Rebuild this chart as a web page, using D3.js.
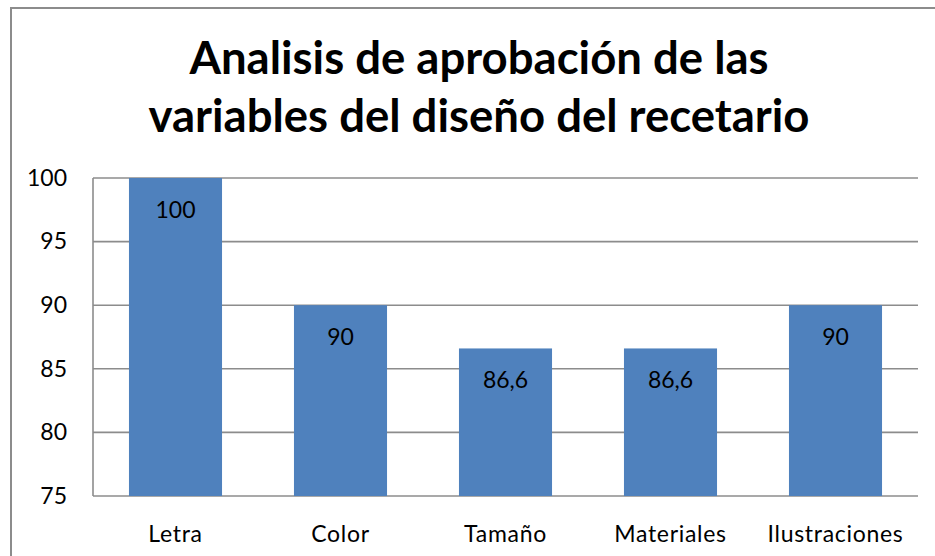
<!DOCTYPE html>
<html>
<head>
<meta charset="utf-8">
<script src="https://cdn.jsdelivr.net/npm/d3@7"></script>
<style>
  html, body { margin: 0; padding: 0; background: #fff; }
  svg { display: block; }
  text { font-family: Lato, "Open Sans", sans-serif; fill: #000; }
</style>
</head>
<body>
<svg id="chart" width="935" height="556"></svg>
<script>
// Chart data
const titleLines = ["Analisis de aprobación de las", "variables del diseño del recetario"];
const categories = ["Letra", "Color", "Tamaño", "Materiales", "Ilustraciones"];
const values = [100, 90, 86.6, 86.6, 90];
const valueLabels = ["100", "90", "86,6", "86,6", "90"];
const yTicks = [75, 80, 85, 90, 95, 100];

const svg = d3.select("#chart");
const W = 935, H = 556;

// Outer chart frame
svg.append("rect")
  .attr("x", 11).attr("y", 8)
  .attr("width", W + 20).attr("height", H + 20)
  .attr("fill", "#fff")
  .attr("stroke", "#8c8c8c")
  .attr("stroke-width", 2);

// Title
const title = svg.append("g");
title.selectAll("text")
  .data(titleLines)
  .join("text")
  .attr("x", 479)
  .attr("y", (d, i) => 74 + i * 58)
  .attr("text-anchor", "middle")
  .attr("font-weight", "bold")
  .attr("font-size", 45.5)
  .text(d => d);

// Plot area
const plot = { left: 93, right: 918, top: 178, bottom: 496 };

const x = d3.scaleBand()
  .domain(categories)
  .range([plot.left, plot.right])
  .paddingInner(0.436)
  .paddingOuter(0.218);

const y = d3.scaleLinear()
  .domain([75, 100])
  .range([plot.bottom, plot.top]);

// Horizontal gridlines
svg.append("g")
  .selectAll("line")
  .data(yTicks)
  .join("line")
  .attr("x1", plot.left).attr("x2", plot.right)
  .attr("y1", d => y(d)).attr("y2", d => y(d))
  .attr("stroke", "#8c8c8c")
  .attr("stroke-width", 1.6);

// Vertical axis line
svg.append("line")
  .attr("x1", plot.left).attr("x2", plot.left)
  .attr("y1", plot.top).attr("y2", plot.bottom)
  .attr("stroke", "#8c8c8c")
  .attr("stroke-width", 1.6);

// Y axis labels
const yAxis = d3.axisLeft(y).tickValues(yTicks).tickSize(0).tickPadding(26);
const yg = svg.append("g")
  .attr("transform", `translate(${plot.left},0)`)
  .call(yAxis);
yg.select(".domain").remove();
yg.selectAll("text")
  .attr("font-size", 23)
  .attr("font-family", "Lato, sans-serif")
  .attr("fill", "#000");

// Bars
svg.append("g")
  .selectAll("rect")
  .data(values)
  .join("rect")
  .attr("x", (d, i) => x(categories[i]))
  .attr("width", x.bandwidth())
  .attr("y", d => y(d))
  .attr("height", d => y(75) - y(d))
  .attr("fill", "#4f81bd");

// Value labels inside bars
svg.append("g")
  .selectAll("text")
  .data(values)
  .join("text")
  .attr("x", (d, i) => x(categories[i]) + x.bandwidth() / 2)
  .attr("y", d => y(d) + 40)
  .attr("text-anchor", "middle")
  .attr("font-size", 23)
  .text((d, i) => valueLabels[i]);

// Category labels
const xAxis = d3.axisBottom(x).tickSize(0).tickPadding(30);
const xg = svg.append("g")
  .attr("transform", `translate(0,${plot.bottom})`)
  .call(xAxis);
xg.select(".domain").remove();
xg.selectAll("text")
  .attr("font-size", 23)
  .attr("letter-spacing", 0.7)
  .attr("font-family", "Lato, sans-serif")
  .attr("fill", "#000");
</script>
</body>
</html>
